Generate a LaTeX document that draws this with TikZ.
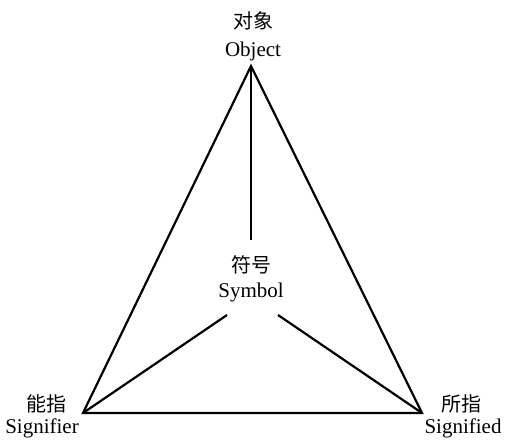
\documentclass[tikz,border=0pt]{standalone}
\usepackage{fontspec}
\setmainfont{Liberation Serif}
\newfontfamily\cjk{Noto Sans CJK SC}
\begin{document}
\begin{tikzpicture}[x=1pt,y=-1pt,
  edge/.style={line width=2.2pt,black},
  zh/.style={font=\cjk\fontsize{20}{24}\selectfont,inner sep=0pt,anchor=center},
  en/.style={font=\fontsize{21}{25}\selectfont,inner sep=0pt,anchor=base}]
\useasboundingbox (0,0) rectangle (505,439);
\coordinate (O) at (251,66);
\coordinate (L) at (83,413);
\coordinate (R) at (422,413);
\coordinate (c1) at (251,240);
\coordinate (c2) at (227,315);
\coordinate (c3) at (278,315);
\draw[edge] (O) -- (L) -- (R) -- cycle;
\draw[edge] (O) -- (c1);
\draw[edge] (L) -- (c2);
\draw[edge] (R) -- (c3);
\node[zh] (oz) at (253,21) {对象};
\node[en] (oe) at (253,56) {Object};
\node[zh] (sz) at (251,265) {符号};
\node[en] (se) at (251,297) {Symbol};
\node[zh] (lz) at (46,404) {能指};
\node[en] (le) at (42,433) {Signifier};
\node[zh] (rz) at (461,404) {所指};
\node[en] (re) at (463,433) {Signified};
\end{tikzpicture}
\end{document}
